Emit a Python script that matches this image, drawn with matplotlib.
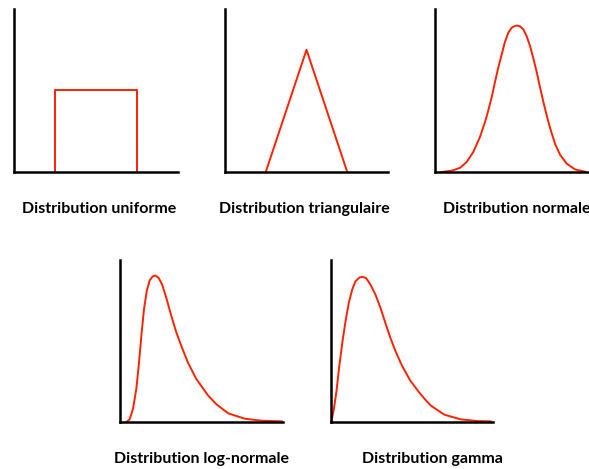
import matplotlib
matplotlib.use("Agg")
import matplotlib.pyplot as plt

# ---- data (0-10 scale in each panel) ----
uniform_x = [2.5, 2.5, 7.5, 7.5]
uniform_y = [0.0, 5.0, 5.0, 0.0]

tri_x = [2.5, 5.0, 7.5]
tri_y = [0.0, 7.5, 0.0]

normal_x = [0.41, 1.02, 1.53, 1.94, 2.35, 2.76, 3.07, 3.27, 3.48, 3.68, 3.89, 4.09,
            4.29, 4.50, 4.70, 4.91, 5.05, 5.21, 5.42, 5.62, 5.83, 6.03, 6.24, 6.44,
            6.65, 6.85, 7.06, 7.36, 7.67, 8.08, 8.59, 9.20]
normal_y = [0.00, 0.08, 0.25, 0.61, 1.23, 2.15, 3.07, 3.78, 4.60, 5.52, 6.44, 7.20,
            7.98, 8.55, 8.85, 8.96, 8.98, 8.94, 8.75, 8.34, 7.73, 6.99, 6.13, 5.21,
            4.29, 3.48, 2.70, 1.74, 1.06, 0.51, 0.16, 0.02]

lognorm_x = [0.39, 0.59, 0.80, 1.00, 1.15, 1.31, 1.47, 1.64, 1.82, 2.02, 2.17, 2.37,
             2.58, 2.84, 3.15, 3.46, 3.76, 4.17, 4.68, 5.40, 5.93, 6.65, 7.67, 8.69, 9.92]
lognorm_y = [0.00, 0.16, 0.82, 2.04, 3.48, 5.32, 6.95, 8.08, 8.75, 9.00, 9.04, 8.90,
             8.49, 7.67, 6.54, 5.52, 4.70, 3.66, 2.66, 1.64, 1.08, 0.53, 0.20, 0.08, 0.04]

gamma_x = [0.04, 0.18, 0.33, 0.49, 0.70, 0.90, 1.10, 1.31, 1.51, 1.76, 1.96, 2.17,
           2.43, 2.74, 3.05, 3.35, 3.66, 3.97, 4.38, 4.89, 5.40, 5.80, 6.18, 7.00,
           8.02, 9.04, 9.86]
gamma_y = [0.10, 0.82, 1.84, 3.27, 4.91, 6.24, 7.36, 8.18, 8.69, 8.92, 8.96, 8.88,
           8.49, 7.87, 7.06, 6.13, 5.21, 4.40, 3.48, 2.56, 1.88, 1.40, 1.00, 0.45,
           0.16, 0.06, 0.04]

titles = ["Distribution uniforme", "Distribution triangulaire", "Distribution normale",
          "Distribution log-normale", "Distribution gamma"]

W, H = 589, 469
fig = plt.figure(figsize=(W / 100, H / 100), dpi=100)
RED = "#ff2200"

# axes boxes in pixels: (left, right, top, bottom)
boxes = [(14, 178, 9, 172), (225, 388, 9, 172), (435, 598, 9, 172),
         (120, 283, 260, 422), (331, 493, 260, 422)]
series = [(uniform_x, uniform_y), (tri_x, tri_y), (normal_x, normal_y),
          (lognorm_x, lognorm_y), (gamma_x, gamma_y)]
title_pos = [(99, 209, "center"), (304, 209, "center"), (443, 209, "left"),
             (201, 459, "center"), (432, 459, "center")]

for (l, r, t, b), (xs, ys), (tx, ty, ha), title in zip(boxes, series, title_pos, titles):
    ax = fig.add_axes([l / W, 1 - b / H, (r - l) / W, (b - t) / H])
    ax.plot(xs, ys, color=RED, lw=1.4, solid_joinstyle="round", clip_on=False)
    ax.set_xlim(0, 10)
    ax.set_ylim(0, 10)
    ax.set_xticks([])
    ax.set_yticks([])
    for s in ("top", "right"):
        ax.spines[s].set_visible(False)
    for s in ("left", "bottom"):
        ax.spines[s].set_linewidth(1.8)
        ax.spines[s].set_color("black")
    ax.patch.set_alpha(0)
    fig.text(tx / W, 1 - ty / H, title, ha=ha, va="center",
             fontsize=11.5, fontweight="bold", family=["Lato", "DejaVu Sans"])

fig.savefig("out.png", dpi=100)
